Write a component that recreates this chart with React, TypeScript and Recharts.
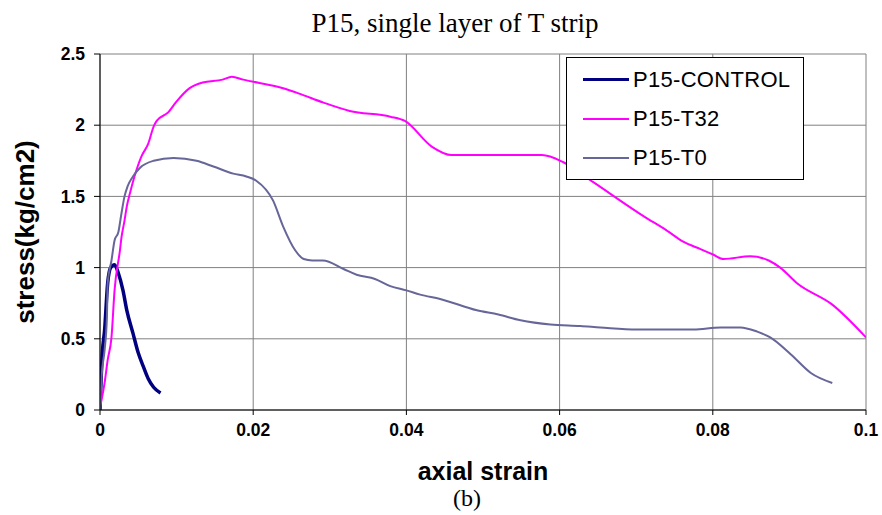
import React from "react";
import {
  CartesianGrid,
  Label,
  Line,
  LineChart,
  XAxis,
  YAxis,
} from "recharts";

// axial strain / stress (kg/cm2) readings for each specimen
const controlStrain = [0, 0.0003, 0.0006, 0.001, 0.0014, 0.0019, 0.0024, 0.003, 0.0035, 0.0043, 0.005, 0.0057, 0.0063, 0.007, 0.0079];
const controlStress = [0, 0.4, 0.56, 0.89, 1.0, 1.02, 0.96, 0.84, 0.7, 0.54, 0.4, 0.3, 0.22, 0.16, 0.12];

const t32Strain = [
  0, 0.0006, 0.001, 0.0015, 0.0019, 0.0026, 0.0028, 0.0032, 0.0035, 0.0039, 0.0045, 0.0054, 0.0063, 0.007,
  0.0074, 0.0089, 0.0099, 0.0117, 0.0134, 0.016, 0.0172, 0.0187, 0.0239, 0.0261, 0.0291, 0.0326, 0.0379,
  0.0398, 0.0433, 0.0459, 0.0577, 0.0605, 0.0644, 0.071, 0.074, 0.0762, 0.0784, 0.0801, 0.0814, 0.0849,
  0.0873, 0.0888, 0.091, 0.0956, 0.1,
];
const t32Stress = [
  0.02, 0.19, 0.35, 0.51, 0.84, 1.12, 1.21, 1.33, 1.43, 1.52, 1.64, 1.78, 1.87, 1.99,
  2.03, 2.09, 2.16, 2.26, 2.3, 2.32, 2.34, 2.32, 2.26, 2.22, 2.16, 2.1, 2.06,
  2.03, 1.85, 1.79, 1.79, 1.74, 1.6, 1.36, 1.26, 1.18, 1.13, 1.09, 1.06, 1.08,
  1.05, 1.0, 0.89, 0.74, 0.51,
];

const t0Strain = [
  0, 0.0002, 0.0006, 0.0009, 0.001, 0.0015, 0.0019, 0.0024, 0.0028, 0.0032, 0.0036, 0.0043, 0.0052, 0.007,
  0.0096, 0.0126, 0.0148, 0.0174, 0.0191, 0.0204, 0.0226, 0.0239, 0.0255, 0.0266, 0.0277, 0.0291, 0.0318,
  0.0335, 0.0359, 0.0379, 0.04, 0.0418, 0.0444, 0.0492, 0.052, 0.0549, 0.0588, 0.0627, 0.0653, 0.0701,
  0.0775, 0.081, 0.0836, 0.0858, 0.0875, 0.0902, 0.0928, 0.0956,
];
const t0Stress = [
  0, 0.23, 0.42, 0.65, 0.89, 1.05, 1.19, 1.25, 1.38, 1.5, 1.57, 1.64, 1.7, 1.75,
  1.77, 1.75, 1.71, 1.66, 1.64, 1.61, 1.47, 1.29, 1.12, 1.06, 1.05, 1.05, 0.99,
  0.95, 0.92, 0.87, 0.84, 0.81, 0.78, 0.7, 0.67, 0.63, 0.6, 0.59, 0.58, 0.565,
  0.565, 0.58, 0.58, 0.55, 0.51, 0.39, 0.26, 0.19,
];

const xTicks = [0, 0.02, 0.04, 0.06, 0.08, 0.1];
const yTicks = [0, 0.5, 1, 1.5, 2, 2.5];

const pairs = (xs: number[], ys: number[]) => xs.map((x, i) => ({ x, y: ys[i] }));

const series = [
  { name: "P15-CONTROL", color: "#000080", width: 3.5, data: pairs(controlStrain, controlStress) },
  { name: "P15-T32", color: "#ff00ff", width: 2, data: pairs(t32Strain, t32Stress) },
  { name: "P15-T0", color: "#666699", width: 2, data: pairs(t0Strain, t0Stress) },
];

const arial = "Arial, 'Liberation Sans', sans-serif";
const times = "'Times New Roman', 'Liberation Serif', serif";
const tickStyle = { fontFamily: arial, fontWeight: 700, fontSize: 17.5, fill: "#000" };
const axisTitle = { fontFamily: arial, fontWeight: 700, fontSize: 25, fill: "#000" };

function LegendBox() {
  return (
    <div
      style={{
        position: "absolute",
        left: 566,
        top: 57,
        width: 238,
        height: 123,
        border: "1px solid #000",
        background: "#fff",
        boxSizing: "border-box",
        paddingTop: 2,
        fontFamily: arial,
        fontSize: 22,
      }}
    >
      {series.map((s) => (
        <div key={s.name} style={{ display: "flex", alignItems: "center", height: 39 }}>
          <div style={{ marginLeft: 16, width: 46, height: s.width, background: s.color }} />
          <span style={{ marginLeft: 4, letterSpacing: 0.3 }}>{s.name}</span>
        </div>
      ))}
    </div>
  );
}

export default function App() {
  return (
    <div style={{ position: "relative", width: 882, height: 515, background: "#fff" }}>
      <style>{"body{margin:0}"}</style>
      <LineChart width={882} height={515} margin={{ top: 54, right: 16, left: 40, bottom: 75 }}>
        <CartesianGrid stroke="#808080" strokeWidth={1} />
        <XAxis
          type="number"
          dataKey="x"
          domain={[0, 0.1]}
          ticks={xTicks}
          tickFormatter={(v) => String(v)}
          stroke="#000"
          tickSize={5}
          tickMargin={9}
          tick={tickStyle}
          height={30}
          allowDataOverflow
        >
          <Label value="axial strain" position="bottom" offset={22} style={axisTitle} />
        </XAxis>
        <YAxis
          type="number"
          dataKey="y"
          domain={[0, 2.5]}
          ticks={yTicks}
          stroke="#000"
          tickSize={6}
          tickMargin={9}
          tick={tickStyle}
          width={60}
        >
          <Label
            value="stress(kg/cm2)"
            angle={-90}
            position="insideLeft"
            offset={-15}
            style={{ ...axisTitle, textAnchor: "middle", fontSize: 26 }}
          />
        </YAxis>
        {series.map((s) => (
          <Line
            key={s.name}
            data={s.data}
            dataKey="y"
            name={s.name}
            type="monotone"
            stroke={s.color}
            strokeWidth={s.width}
            dot={false}
            isAnimationActive={false}
          />
        ))}
      </LineChart>
      <LegendBox />
      <div
        style={{
          position: "absolute",
          top: 8,
          left: 14,
          width: 882,
          textAlign: "center",
          fontFamily: times,
          fontSize: 27,
        }}
      >
        P15, single layer of T strip
      </div>
      <div
        style={{
          position: "absolute",
          top: 485,
          left: 417,
          width: 100,
          textAlign: "center",
          fontFamily: times,
          fontSize: 24,
        }}
      >
        (b)
      </div>
    </div>
  );
}
